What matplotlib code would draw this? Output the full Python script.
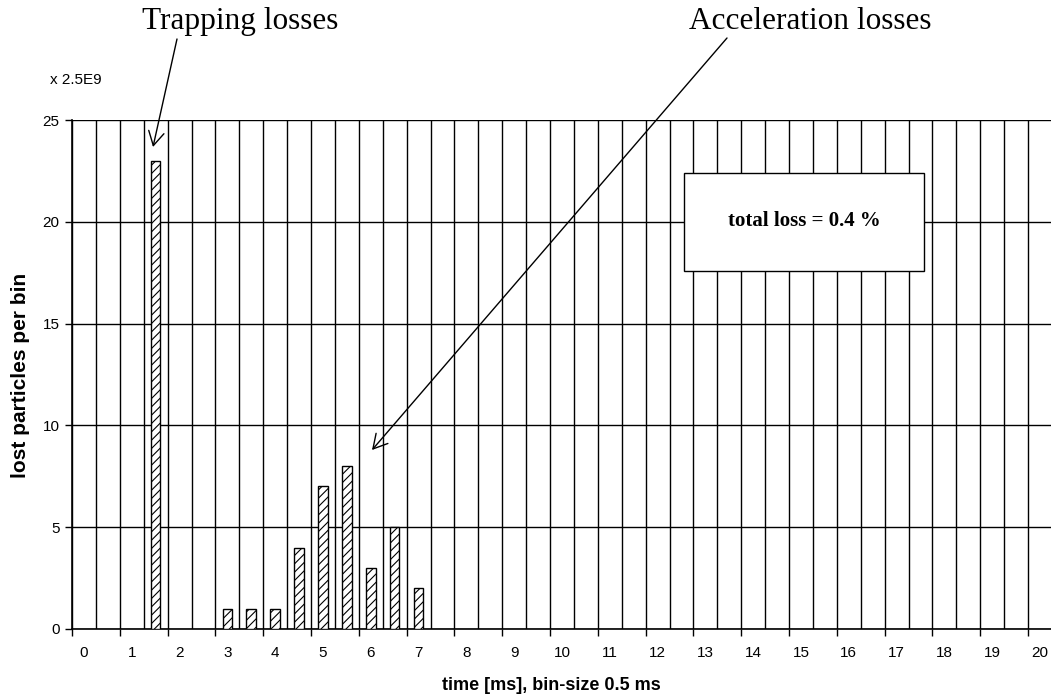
import matplotlib
matplotlib.use("Agg")
import matplotlib.pyplot as plt
from matplotlib.patches import Rectangle

plt.rcParams['font.family'] = ['Liberation Sans', 'DejaVu Sans']
plt.rcParams['hatch.linewidth'] = 0.8

# lost particles per 0.5 ms bin (units of 2.5E9); empty bins left out
bin_times = [1.5, 3.0, 3.5, 4.0, 4.5, 5.0, 5.5, 6.0, 6.5, 7.0]
lost = [23, 1, 1, 1, 4, 7, 8, 3, 5, 2]
time_labels = [str(t) for t in range(0, 21)]
y_ticks = [0, 5, 10, 15, 20, 25]
bin_size = 0.5

W, H = 1051, 700
fig = plt.figure(figsize=(W / 100, H / 100), dpi=100)
ax = fig.add_axes([72 / W, 71 / H, 980 / W, 509 / H])

ax.bar(bin_times, lost, width=0.4 * bin_size, color='white', edgecolor='black',
       linewidth=1.0, hatch='////', zorder=3)

x_lo, x_hi = -bin_size / 2, 20 + bin_size / 2
ax.set_xlim(x_lo, x_hi)
ax.set_ylim(0, 25)

# bin edges: grid on every edge, tick marks on every second one
edges = [x_lo + k * bin_size for k in range(42)]
for e in edges[1::2]:
    ax.axvline(e, color='black', lw=1.0, zorder=1)
ax.set_xticks(edges[::2])
ax.set_xticklabels([])
ax.tick_params(axis='x', which='major', length=5, width=1, direction='out')
ax.grid(axis='x', which='major', color='black', lw=1.0, zorder=1)

ax.set_xticks(range(0, 21), time_labels, minor=True)
ax.tick_params(axis='x', which='minor', length=0, pad=12, labelsize=11)

ax.set_yticks(y_ticks)
ax.tick_params(axis='y', length=5, width=1, direction='out', pad=4, labelsize=11)
ax.grid(axis='y', color='black', lw=1.0, zorder=1)
ax.set_axisbelow(True)

for s in ('top', 'right'):
    ax.spines[s].set_visible(False)
for s in ('left', 'bottom'):
    ax.spines[s].set_linewidth(1.2)

fig.text(21 / W, 1 - 375 / H, 'lost particles per bin', rotation=90,
         ha='center', va='center', fontsize=15, fontweight='bold')
fig.text(551 / W, 1 - 685 / H, 'time [ms], bin-size 0.5 ms',
         ha='center', va='center', fontsize=13, fontweight='bold')
fig.text(50 / W, 1 - 80 / H, 'x 2.5E9', ha='left', va='center', fontsize=11)

# annotations
fig.text(240 / W, 1 - 29 / H, 'Trapping losses', ha='center', va='baseline',
         fontsize=22.5, family='Liberation Serif')
fig.text(810 / W, 1 - 29 / H, 'Acceleration losses', ha='center', va='baseline',
         fontsize=22.5, family='Liberation Serif')

arrow = dict(arrowstyle='->,head_length=0.5,head_width=0.28', color='black',
             lw=1.0, shrinkA=0, shrinkB=0, mutation_scale=20)
ax.annotate('', xy=(153, H - 147), xycoords='figure pixels',
            xytext=(177, H - 39), textcoords='figure pixels',
            arrowprops=arrow, annotation_clip=False)
ax.annotate('', xy=(372, H - 450), xycoords='figure pixels',
            xytext=(727, H - 38), textcoords='figure pixels',
            arrowprops=arrow, annotation_clip=False)

box = Rectangle((684 / W, 1 - 271 / H), 240 / W, 98 / H, transform=fig.transFigure,
                facecolor='white', edgecolor='black', lw=1.0, zorder=5)
fig.add_artist(box)
fig.text(804 / W, 1 - 221 / H, 'total loss = 0.4 %', ha='center', va='center',
         fontsize=15, fontweight='bold', family='Liberation Serif', zorder=6)

fig.savefig('out.png', dpi=100)
